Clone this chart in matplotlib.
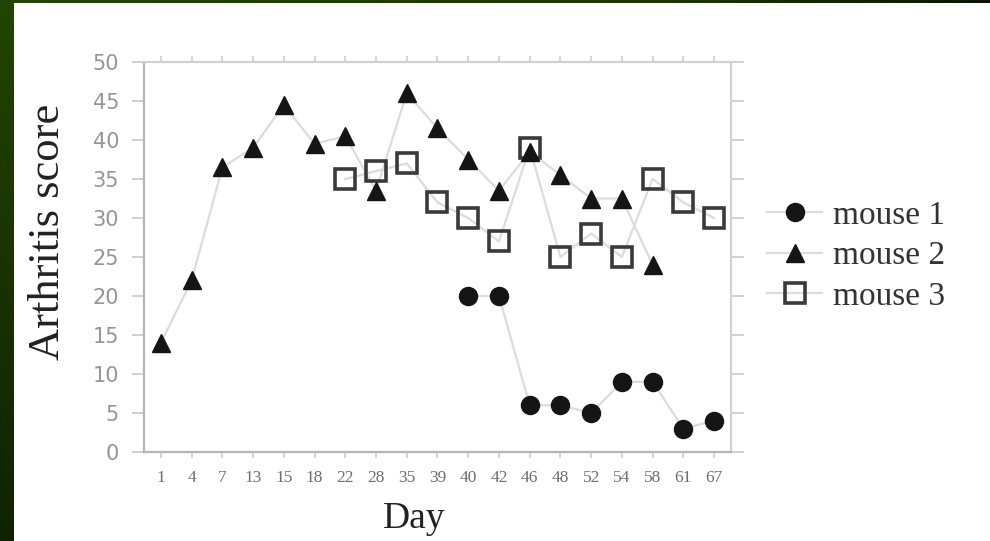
import matplotlib
matplotlib.use('Agg')
import matplotlib.pyplot as plt
from matplotlib.lines import Line2D
import numpy as np

# ---- data ----
days = ['1', '4', '7', '13', '15', '18', '22', '28', '35', '39', '40',
        '42', '46', '48', '52', '54', '58', '61', '67']
mouse1_days = ['40', '42', '46', '48', '52', '54', '58', '61', '67']
mouse1 = [20, 20, 6, 6, 5, 9, 9, 3, 4]
mouse2_days = ['1', '4', '7', '13', '15', '18', '22', '28', '35', '39', '40',
               '42', '46', '48', '52', '54', '58']
mouse2 = [14, 22, 36.5, 39, 44.5, 39.5, 40.5, 33.5, 46, 41.5, 37.5,
          33.5, 38.5, 35.5, 32.5, 32.5, 24]
mouse3_days = ['22', '28', '35', '39', '40', '42', '46', '48', '52', '54',
               '58', '61', '67']
mouse3 = [35, 36, 37, 32, 30, 27, 39, 25, 28, 25, 35, 32, 30]
yticks = [0, 5, 10, 15, 20, 25, 30, 35, 40, 45, 50]
labels = ['mouse 1', 'mouse 2', 'mouse 3']

W, H = 990, 541
fig = plt.figure(figsize=(W / 100, H / 100), dpi=100)
fig.patch.set_facecolor('white')

# green frame strips
gl = fig.add_axes([0, 0, 14 / W, 1])
gl.imshow(np.linspace(0, 1, 100).reshape(-1, 1), aspect='auto',
          cmap=matplotlib.colors.LinearSegmentedColormap.from_list('g', ['#224500', '#0f2300']))
gl.axis('off')
gt = fig.add_axes([0, 1 - 3 / H, 1, 3 / H])
gt.imshow(np.linspace(0, 1, 200).reshape(1, -1), aspect='auto',
          cmap=matplotlib.colors.LinearSegmentedColormap.from_list('t', ['#244600', '#1e3d00', '#1a3600', '#0a1400']))
gt.axis('off')

L, R, T, B = 144, 731, 62, 452
ax = fig.add_axes([L / W, 1 - B / H, (R - L) / W, (B - T) / H])

def idx(lst):
    return [days.index(d) for d in lst]

line_kw = dict(color='#dcdcdc', lw=1.6, zorder=2)
ax.plot(idx(mouse1_days), mouse1, **line_kw)
ax.plot(idx(mouse2_days), mouse2, **line_kw)
ax.plot(idx(mouse3_days), mouse3, **line_kw)

m1 = dict(marker='o', ms=13, mfc='#151515', mec='#151515', mew=1)
m2 = dict(marker='^', ms=12.5, mfc='#151515', mec='#151515', mew=1)
m3 = dict(marker='s', ms=14, mfc='none', mec='#3a3a3a', mew=2.6)
ax.plot(idx(mouse3_days), mouse3, ls='none', zorder=3, **m3)
ax.plot(idx(mouse2_days), mouse2, ls='none', zorder=4, **m2)
ax.plot(idx(mouse1_days), mouse1, ls='none', zorder=4, **m1)

ax.set_xlim(-0.55, len(days) - 1 + 0.55)
ax.set_ylim(0, 50)
ax.set_xticks(range(len(days)))
ax.set_xticklabels(days)
ax.set_yticks(yticks)
ax.set_yticklabels([str(v) for v in yticks])

for s in ['left', 'bottom']:
    ax.spines[s].set_color('#b5b5b5')
    ax.spines[s].set_linewidth(1.6)
for s in ['top', 'right']:
    ax.spines[s].set_color('#d2d2d2')
    ax.spines[s].set_linewidth(1.6)

ax.tick_params(axis='y', which='both', direction='out', length=9, width=1.2,
               color='#c8c8c8', left=True, right=True, labelleft=True,
               labelright=False, pad=9, labelcolor='#959595', labelsize=15)
ax.tick_params(axis='x', which='both', direction='out', length=4, width=1.2,
               color='#cfcfcf', top=True, bottom=True, labelbottom=True,
               labeltop=False, pad=9, labelcolor='#6e6e6e', labelsize=12.5)
for t in ax.get_xticklabels():
    t.set_family('Liberation Serif')
for t in ax.get_yticklabels():
    t.set_family('DejaVu Sans')

fig.text(48 / W, 1 - 232 / H, 'Arthritis score', rotation=90, ha='center',
         va='center', family='Liberation Serif', fontsize=32, color='#222222')
fig.text(414 / W, 1 - 528 / H, 'Day', ha='center', va='baseline',
         family='Liberation Serif', fontsize=27, color='#222222')

handles = [Line2D([], [], color='#dcdcdc', lw=1.6, **m1),
           Line2D([], [], color='#dcdcdc', lw=1.6, **m2),
           Line2D([], [], color='#dcdcdc', lw=1.6, **m3)]
fig.legend(handles, labels, loc='upper left',
           bbox_to_anchor=(767 / W, 1 - 200 / H), bbox_transform=fig.transFigure,
           frameon=False, borderpad=0, borderaxespad=0, handlelength=1.65,
           handletextpad=0.33, labelspacing=0.31,
           prop={'family': 'Liberation Serif', 'size': 24}, labelcolor='#333333')

fig.savefig('out.png', dpi=100, facecolor='white')
